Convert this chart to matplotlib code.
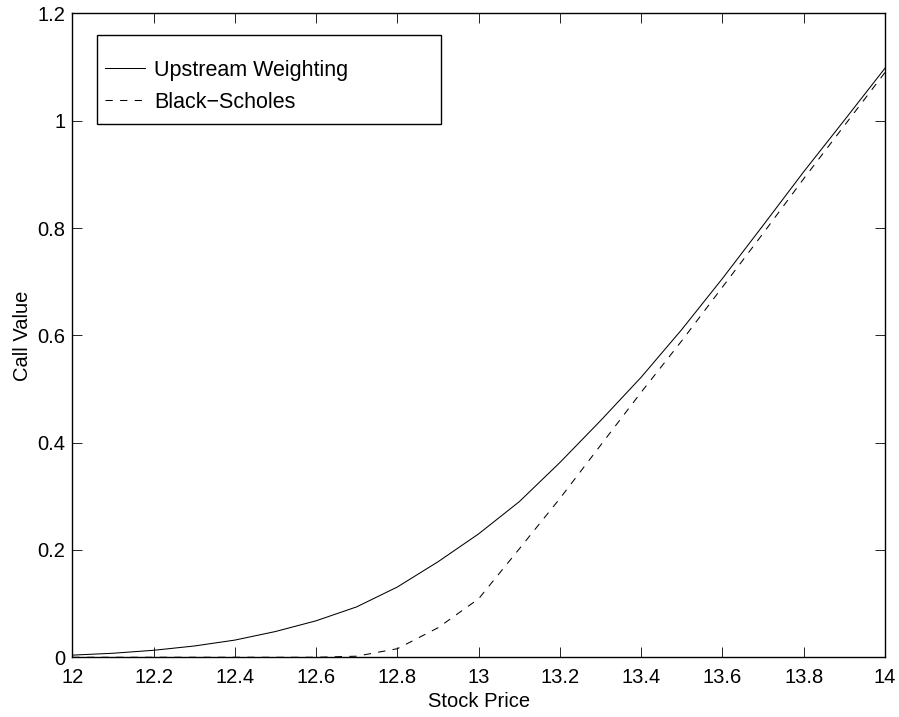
import matplotlib.pyplot as plt
from matplotlib.patches import Rectangle

plt.rcParams['font.family'] = ['Liberation Sans', 'DejaVu Sans']

# stock price grid
price = [12.0, 12.1, 12.2, 12.3, 12.4, 12.5, 12.6, 12.7, 12.8, 12.9, 13.0,
         13.1, 13.2, 13.3, 13.4, 13.5, 13.6, 13.7, 13.8, 13.9, 14.0]

# upstream weighting (numerical) call values
upstream = [0.004, 0.0075, 0.013, 0.021, 0.032, 0.048, 0.068, 0.094, 0.131, 0.178, 0.230,
            0.290, 0.363, 0.441, 0.522, 0.611, 0.706, 0.805, 0.905, 1.001, 1.098]

# Black-Scholes call values
black_scholes = [0.0, 0.0, 0.0, 0.0, 0.0, 0.0, 0.0, 0.002, 0.016, 0.055, 0.109,
                 0.202, 0.296, 0.395, 0.494, 0.590, 0.690, 0.790, 0.892, 0.991, 1.090]

xticks = [12, 12.2, 12.4, 12.6, 12.8, 13, 13.2, 13.4, 13.6, 13.8, 14]
xtick_labels = ['12', '12.2', '12.4', '12.6', '12.8', '13', '13.2', '13.4', '13.6', '13.8', '14']
yticks = [0, 0.2, 0.4, 0.6, 0.8, 1, 1.2]
ytick_labels = ['0', '0.2', '0.4', '0.6', '0.8', '1', '1.2']

FS = 14.5
LEG_FS = 15.5


def plot_call_values(filename='out.png'):
    fig = plt.figure(figsize=(8.99, 7.17), dpi=100)
    ax = fig.add_axes([0.0804, 0.0833, 0.904, 0.8979])

    ax.plot(price, upstream, 'k-', lw=0.75, label='Upstream Weighting')
    ax.plot(price, black_scholes, 'k--', lw=0.75, dashes=(7, 7), label='Black\u2212Scholes')

    ax.set_xlim(12, 14)
    ax.set_ylim(0, 1.2)
    ax.set_xticks(xticks)
    ax.set_xticklabels(xtick_labels)
    ax.set_yticks(yticks)
    ax.set_yticklabels(ytick_labels)
    ax.tick_params(direction='in', length=7, width=0.6, labelsize=FS,
                   top=True, right=True)
    ax.tick_params(axis='x', pad=8)
    ax.tick_params(axis='y', pad=5)
    for s in ax.spines.values():
        s.set_linewidth(1.0)

    ax.set_xlabel('Stock Price', fontsize=FS, labelpad=3)
    ax.set_ylabel('Call Value', fontsize=FS, labelpad=4)

    # MATLAB-style legend box: tight sides, roomy top/bottom
    ax.add_patch(Rectangle((0.030, 0.8284), 0.4233, 0.1382, transform=ax.transAxes,
                           fill=True, facecolor='white', edgecolor='black', lw=1.0,
                           zorder=4))
    leg = ax.legend(loc='upper left', bbox_to_anchor=(0.0402, 0.928), fontsize=LEG_FS,
                    frameon=False, handlelength=1.86, handletextpad=0.43,
                    borderpad=0, labelspacing=0.5, borderaxespad=0)
    leg.set_zorder(5)

    plt.savefig(filename, dpi=100)
    plt.close()


if __name__ == '__main__':
    plot_call_values()
